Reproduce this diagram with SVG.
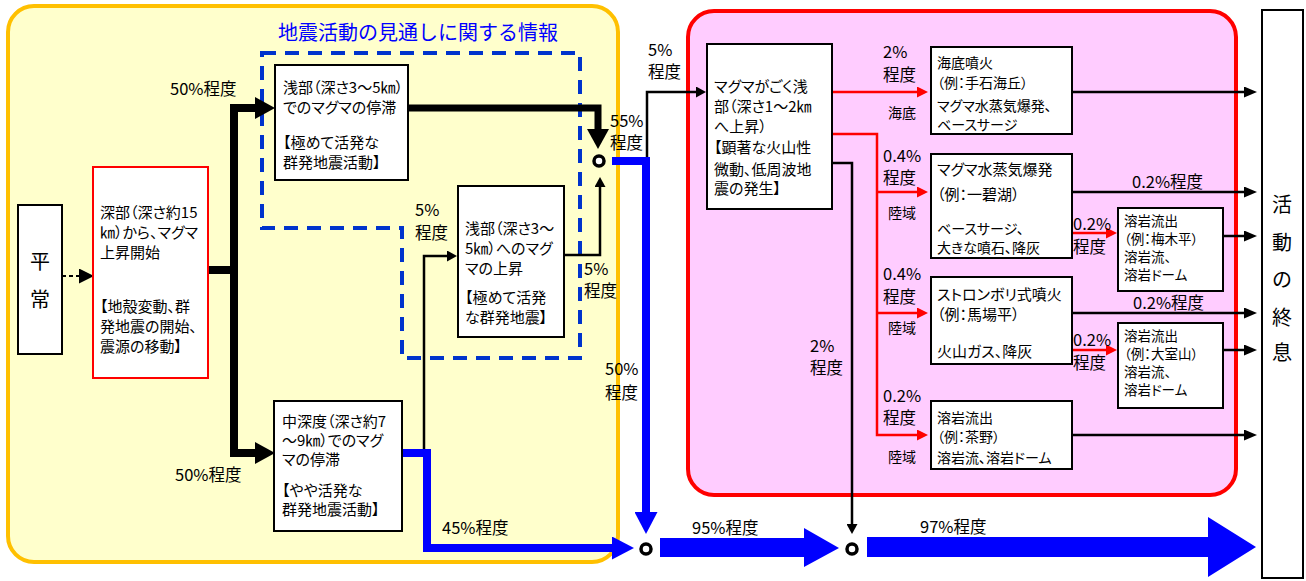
<svg xmlns="http://www.w3.org/2000/svg" width="1306" height="581" viewBox="0 0 1306 581">
<style>
.t{font-family:"Noto Sans CJK JP","Noto Sans CJK SC",sans-serif;font-size:15px;fill:#000;font-feature-settings:"palt"}
.lb{font-size:16.5px;font-feature-settings:normal}
.sm{font-size:14px;font-feature-settings:normal}
.s14{font-size:13.5px}
.s145{font-size:14px}
.box{fill:#fff;stroke:#000;stroke-width:2}
.k8{fill:none;stroke:#000;stroke-width:8}
.k7{fill:none;stroke:#000;stroke-width:7}
.k{fill:none;stroke:#000;stroke-width:2.5}
.r{fill:none;stroke:#f00;stroke-width:2.5}
.b{fill:none;stroke:#00f;stroke-width:8}
.ring{fill:#fff;stroke:#000;stroke-width:3.5}
</style>
<defs>
<marker id="ahBig" markerUnits="userSpaceOnUse" viewBox="0 0 20 22" markerWidth="20" markerHeight="22" refX="1" refY="11" orient="auto"><path d="M0,0 L20,11 L0,22 Z" fill="#000"/></marker>
<marker id="ahThin" markerUnits="userSpaceOnUse" viewBox="0 0 10 11" markerWidth="10" markerHeight="11" refX="1" refY="5.5" orient="auto"><path d="M0,0 L10,5.5 L0,11 Z" fill="#000"/></marker>
<marker id="ahEnd" markerUnits="userSpaceOnUse" viewBox="0 0 13 11" markerWidth="13" markerHeight="11" refX="1" refY="5.5" orient="auto"><path d="M0,0 L13,5.5 L0,11 Z" fill="#000"/></marker>
<marker id="ahRed" markerUnits="userSpaceOnUse" viewBox="0 0 11 11" markerWidth="11" markerHeight="11" refX="1" refY="5.5" orient="auto"><path d="M0,0 L11,5.5 L0,11 Z" fill="#f00"/></marker>
<marker id="ahBlue" markerUnits="userSpaceOnUse" viewBox="0 0 22 23" markerWidth="22" markerHeight="23" refX="1" refY="11.5" orient="auto"><path d="M0,0 L22,11.5 L0,23 Z" fill="#00f"/></marker>
<marker id="ahDash" markerUnits="userSpaceOnUse" viewBox="0 0 15 15" markerWidth="15" markerHeight="15" refX="1" refY="7.5" orient="auto"><path d="M0,0 L15,7.5 L0,15 Z" fill="#000"/></marker>
</defs>

<g id="background">
<rect x="8" y="6" width="610" height="556" rx="26" fill="#FFFFCC" stroke="#FFC000" stroke-width="4"/>
<rect x="688" y="11" width="548" height="484" rx="26" fill="#FFCCFF" stroke="#f00" stroke-width="4"/>
<path d="M262,53 H580 V358 H402 V228 H262 Z" fill="none" stroke="#0033CC" stroke-width="4" stroke-dasharray="14 9"/>
<text class="t" x="278" y="40" style="font-size:20px;fill:#0000FF;font-feature-settings:normal">地震活動の見通しに関する情報</text>
</g>

<g id="connectors">
<path d="M62,276 H80" fill="none" stroke="#000" stroke-width="2" stroke-dasharray="4 3" marker-end="url(#ahDash)"/>
<path class="k8" d="M208,270 H234 V108 H256" marker-end="url(#ahBig)"/>
<path class="k8" d="M234,270 V453 H256" marker-end="url(#ahBig)"/>
<path class="k7" d="M408,108 H598 V130" marker-end="url(#ahBig)"/>
<path class="k" d="M564,255 H600 V186" marker-end="url(#ahThin)"/>
<path class="k" d="M424,453 V256 H448" marker-end="url(#ahThin)"/>
<path class="b" d="M402,453 H427 V548 H613" marker-end="url(#ahBlue)"/>
<path class="k" d="M647,158 V92 H697" marker-end="url(#ahThin)"/>
<path class="b" d="M612,161 H646 V513" marker-end="url(#ahBlue)"/>
<path class="r" d="M832,92 H918" marker-end="url(#ahRed)"/>
<path class="r" d="M832,134 H877 V435 H918" marker-end="url(#ahRed)"/>
<path class="r" d="M877,192 H918" marker-end="url(#ahRed)"/>
<path class="r" d="M877,313 H918" marker-end="url(#ahRed)"/>
<path class="k" d="M832,163 H852 V525" marker-end="url(#ahThin)"/>
<path class="k" d="M1072,92 H1245" marker-end="url(#ahEnd)"/>
<path class="k" d="M1072,192 H1245" marker-end="url(#ahEnd)"/>
<path class="k" d="M1072,313 H1245" marker-end="url(#ahEnd)"/>
<path class="k" d="M1072,435 H1245" marker-end="url(#ahEnd)"/>
<path class="k" d="M1223,236 H1245" marker-end="url(#ahEnd)"/>
<path class="k" d="M1223,350 H1245" marker-end="url(#ahEnd)"/>
<path class="r" d="M1072,233 H1107" marker-end="url(#ahRed)"/>
<path class="r" d="M1072,350 H1107" marker-end="url(#ahRed)"/>
<polygon points="660,538 804,538 804,528 839,548 804,567 804,557 660,557" fill="#00f"/>
<polygon points="867,537 1208,537 1208,517 1256,547 1208,577 1208,557 867,557" fill="#00f"/>
<circle class="ring" cx="599" cy="161" r="5"/>
<circle class="ring" cx="646" cy="549" r="5"/>
<circle class="ring" cx="852" cy="549" r="5"/>
</g>

<g id="labels">
<text class="t lb" x="170" y="95">50%程度</text>
<text class="t lb" x="175" y="481">50%程度</text>
<text class="t lb" x="442" y="534">45%程度</text>
<text class="t lb" x="415" y="216">5%</text><text class="t lb" x="415" y="239">程度</text>
<text class="t lb" x="584" y="275">5%</text><text class="t lb" x="584" y="297">程度</text>
<text class="t lb" x="610" y="127">55%</text><text class="t lb" x="610" y="149">程度</text>
<text class="t lb" x="605" y="375">50%</text><text class="t lb" x="605" y="399">程度</text>
<text class="t lb" x="648" y="56">5%</text><text class="t lb" x="648" y="78">程度</text>
<text class="t lb" x="810" y="352">2%</text><text class="t lb" x="810" y="374">程度</text>
<text class="t lb" x="692" y="534">95%程度</text>
<text class="t lb" x="920" y="533">97%程度</text>
<text class="t lb" x="883" y="58">2%</text><text class="t lb" x="883" y="81">程度</text><text class="t sm" x="888" y="118">海底</text>
<text class="t lb" x="883" y="162">0.4%</text><text class="t lb" x="883" y="184">程度</text><text class="t sm" x="888" y="218">陸域</text>
<text class="t lb" x="883" y="280">0.4%</text><text class="t lb" x="883" y="303">程度</text><text class="t sm" x="888" y="333">陸域</text>
<text class="t lb" x="883" y="402">0.2%</text><text class="t lb" x="883" y="424">程度</text><text class="t sm" x="888" y="462">陸域</text>
<text class="t lb" x="1132" y="188">0.2%程度</text>
<text class="t lb" x="1133" y="309">0.2%程度</text>
<text class="t lb" x="1073" y="230">0.2%</text><text class="t lb" x="1073" y="253">程度</text>
<text class="t lb" x="1073" y="346">0.2%</text><text class="t lb" x="1073" y="369">程度</text>
</g>

<g id="heijou">
<rect class="box" x="18" y="205" width="44" height="149"/>
<text class="t" x="40" y="269" text-anchor="middle" style="font-size:20px">平</text>
<text class="t" x="40" y="307" text-anchor="middle" style="font-size:20px">常</text>
</g>

<g id="deep">
<rect x="93" y="167" width="115" height="211" fill="#fff" stroke="#f00" stroke-width="2"/>
<text class="t" x="100" y="218">深部（深さ約15</text>
<text class="t" x="100" y="238">㎞）から、マグマ</text>
<text class="t" x="100" y="258">上昇開始</text>
<text class="t" x="100" y="312">【地殻変動、群</text>
<text class="t" x="100" y="332">発地震の開始、</text>
<text class="t" x="100" y="352">震源の移動】</text>
</g>

<g id="shallow-stay">
<rect class="box" x="275" y="65" width="133" height="115"/>
<text class="t" x="283" y="93">浅部（深さ3～5㎞）</text>
<text class="t" x="283" y="113">でのマグマの停滞</text>
<text class="t" x="283" y="148">【極めて活発な</text>
<text class="t" x="283" y="168">群発地震活動】</text>
</g>

<g id="shallow-rise">
<rect class="box" x="458" y="186" width="106" height="151"/>
<text class="t" x="465" y="234">浅部（深さ3～</text>
<text class="t" x="465" y="254">5㎞）へのマグ</text>
<text class="t" x="465" y="274">マの上昇</text>
<text class="t" x="465" y="303">【極めて活発</text>
<text class="t" x="465" y="323">な群発地震】</text>
</g>

<g id="middle">
<rect class="box" x="274" y="401" width="128" height="130"/>
<text class="t" x="282" y="427">中深度（深さ約7</text>
<text class="t" x="282" y="446">～9㎞）でのマグ</text>
<text class="t" x="282" y="465">マの停滞</text>
<text class="t" x="282" y="496">【やや活発な</text>
<text class="t" x="282" y="515">群発地震活動】</text>
</g>

<g id="magma">
<rect class="box" x="707" y="44" width="125" height="165"/>
<text class="t" x="714" y="92">マグマがごく浅</text>
<text class="t" x="714" y="112">部（深さ1～2㎞</text>
<text class="t" x="714" y="132">へ上昇）</text>
<text class="t" x="714" y="153">【顕著な火山性</text>
<text class="t" x="714" y="175">微動、低周波地</text>
<text class="t" x="714" y="194">震の発生】</text>
</g>

<g id="submarine">
<rect class="box" x="931" y="47" width="141" height="87"/>
<text class="t s145" x="937" y="68">海底噴火</text>
<text class="t s145" x="937" y="88">（例：手石海丘）</text>
<text class="t s145" x="937" y="111">マグマ水蒸気爆発、</text>
<text class="t s145" x="937" y="130">ベースサージ</text>
</g>

<g id="phreatomagmatic">
<rect class="box" x="931" y="154" width="141" height="104"/>
<text class="t" x="937" y="175">マグマ水蒸気爆発</text>
<text class="t" x="937" y="200">（例：一碧湖）</text>
<text class="t s145" x="937" y="234">ベースサージ、</text>
<text class="t s145" x="937" y="253">大きな噴石、降灰</text>
</g>

<g id="strombolian">
<rect class="box" x="931" y="277" width="141" height="87"/>
<text class="t" x="937" y="300">ストロンボリ式噴火</text>
<text class="t" x="937" y="320">（例：馬場平）</text>
<text class="t" x="937" y="357">火山ガス、降灰</text>
</g>

<g id="lava-chano">
<rect class="box" x="931" y="401" width="141" height="68"/>
<text class="t s145" x="937" y="423">溶岩流出</text>
<text class="t s145" x="937" y="442">（例：茶野）</text>
<text class="t s145" x="937" y="463">溶岩流、溶岩ドーム</text>
</g>

<g id="lava-umenoki">
<rect class="box" x="1118" y="208" width="105" height="83"/>
<text class="t s14" x="1124" y="226">溶岩流出</text>
<text class="t s14" x="1124" y="244">（例：梅木平）</text>
<text class="t s14" x="1124" y="262">溶岩流、</text>
<text class="t s14" x="1124" y="280">溶岩ドーム</text>
</g>

<g id="lava-omuro">
<rect class="box" x="1118" y="323" width="105" height="85"/>
<text class="t s14" x="1124" y="341">溶岩流出</text>
<text class="t s14" x="1124" y="359">（例：大室山）</text>
<text class="t s14" x="1124" y="377">溶岩流、</text>
<text class="t s14" x="1124" y="395">溶岩ドーム</text>
</g>

<g id="end">
<rect class="box" x="1262" y="10" width="41" height="568"/>
<text class="t" x="1282" y="212" text-anchor="middle" style="font-size:20px">活</text>
<text class="t" x="1282" y="250" text-anchor="middle" style="font-size:20px">動</text>
<text class="t" x="1282" y="287" text-anchor="middle" style="font-size:20px">の</text>
<text class="t" x="1282" y="325" text-anchor="middle" style="font-size:20px">終</text>
<text class="t" x="1282" y="360" text-anchor="middle" style="font-size:20px">息</text>
</g>
</svg>
